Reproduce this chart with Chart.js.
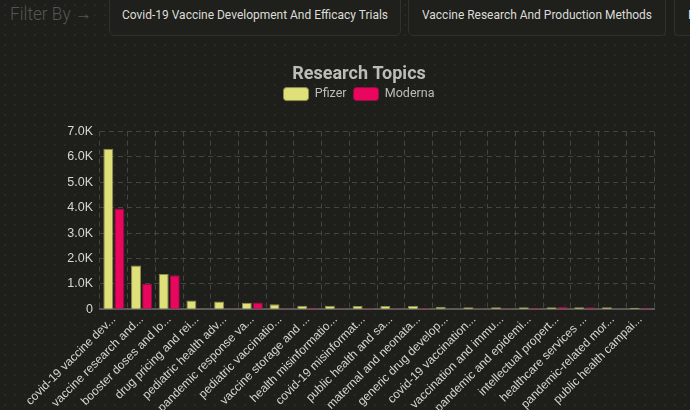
<!DOCTYPE html>
<html>
<head>
<meta charset="utf-8">
<script src="https://cdn.jsdelivr.net/npm/chart.js@4.4.1/dist/chart.umd.min.js"></script>
<style>
  html, body {
    margin: 0;
    padding: 0;
    width: 690px;
    height: 410px;
    overflow: hidden;
    background-color: #1e1e1b;
    background-image: radial-gradient(circle, rgba(255,255,255,0.05) 1px, transparent 1.2px);
    background-size: 10px 10px;
    font-family: Roboto, sans-serif;
  }
  .filter-row {
    position: absolute;
    top: 0;
    left: 0;
    height: 40px;
    width: 900px;
  }
  .fit {
    position: absolute;
    white-space: nowrap;
    line-height: 1;
    transform-origin: 0 50%;
  }
  .filter-label {
    left: 10px;
    top: 4px;
    font-weight: 300;
    font-size: 19px;
    color: #55554f;
  }
  .filter-btn {
    position: absolute;
    top: -12px;
    height: 48px;
    border: 1px solid #30302c;
    border-radius: 5px;
    background: #1f1f1c;
    box-sizing: border-box;
  }
  .filter-btn .fit {
    top: 19px;
    color: #dcdcd6;
    font-size: 13px;
  }
  #wrap {
    position: absolute;
    left: 0;
    top: 55px;
    width: 690px;
    height: 363px;
  }
</style>
</head>
<body>
<div class="filter-row">
  <div class="fit filter-label" data-w="82">Filter By &rarr;</div>
  <div class="filter-btn" style="left:109px;width:292px"><span class="fit" style="left:12px" data-w="266">Covid-19 Vaccine Development And Efficacy Trials</span></div>
  <div class="filter-btn" style="left:408px;width:258px"><span class="fit" style="left:13px" data-w="230">Vaccine Research And Production Methods</span></div>
  <div class="filter-btn" style="left:674px;width:260px"><span class="fit" style="left:13px">Emergency Use Authorization</span></div>
</div>
<div id="wrap"><canvas id="barChart"></canvas></div>
<script>
// squeeze the filter texts to the widths used on the page
var fits = document.querySelectorAll(".fit[data-w]");
for (var i = 0; i < fits.length; i++) {
  var want = parseFloat(fits[i].getAttribute("data-w"));
  var have = fits[i].getBoundingClientRect().width;
  fits[i].style.transform = "scaleX(" + (want / have) + ")";
}

// research topics (labels cut to 20 chars like on the dashboard)
var topics = [
  "covid-19 vaccine dev",
  "vaccine research and",
  "booster doses and lo",
  "drug pricing and rei",
  "pediatric health adv",
  "pandemic response va",
  "pediatric vaccinatio",
  "vaccine storage and ",
  "health misinformatio",
  "covid-19 misinformat",
  "public health and sa",
  "maternal and neonata",
  "generic drug develop",
  "covid-19 vaccination",
  "vaccination and immu",
  "pandemic and epidemi",
  "intellectual propert",
  "healthcare services ",
  "pandemic-related mor",
  "public health campai"
];

var pfizer = [6320, 1730, 1390, 350, 310, 260, 200, 145, 145, 130, 130, 130, 105, 80, 80, 80, 80, 80, 80, 60];
var moderna = [3970, 1000, 1340, 0, 40, 270, 40, 65, 40, 50, 40, 50, 0, 40, 40, 65, 105, 80, 30, 60];

var yTicks = [0, 1000, 2000, 3000, 4000, 5000, 6000, 7000];

function kFormat(v) {
  if (v === 0) return "0";
  return (v / 1000).toFixed(1) + "K";
}

// extra room between the legend and the plot
var legendGap = {
  id: 'legendGap',
  beforeInit: function (chart) {
    var fit = chart.legend.fit;
    chart.legend.fit = function () {
      fit.bind(chart.legend)();
      this.height += 21;
    };
  }
};

var ctx = document.getElementById("barChart").getContext('2d');
var myBarChart = new Chart(ctx, {
  type: 'bar',
  data: {
    labels: topics,
    datasets: [{
        label: "Pfizer",
        data: pfizer,
        backgroundColor: '#dfe07a',
        borderColor: '#8d8e4c',
        borderWidth: 1
      },
      {
        label: "Moderna",
        data: moderna,
        backgroundColor: '#e8065f',
        borderColor: '#94103f',
        borderWidth: 1
      }
    ]
  },
  plugins: [legendGap],
  options: {
    responsive: true,
    maintainAspectRatio: false,
    animation: false,
    layout: {
      padding: { left: 64, right: 36 }
    },
    plugins: {
      title: {
        display: true,
        text: "Research Topics",
        color: '#bdbdb8',
        font: { family: 'Roboto', size: 18, weight: 'bold' },
        padding: { top: 9, bottom: -5 }
      },
      legend: {
        labels: {
          color: '#bdbdb8',
          font: { family: 'Roboto', size: 12.5 },
          boxWidth: 25,
          boxHeight: 13,
          padding: 7,
          useBorderRadius: true,
          borderRadius: 3
        }
      }
    },
    scales: {
      x: {
        grid: {
          color: '#45453f',
          tickLength: 0,
          offset: true
        },
        border: { color: '#5a5a56', width: 2, dash: [5, 4] },
        ticks: {
          color: '#d6d6d2',
          font: { family: 'Liberation Sans', size: 12 },
          maxRotation: 45,
          minRotation: 45,
          autoSkip: false,
          callback: function (value) {
            return this.getLabelForValue(value) + "...";
          }
        }
      },
      y: {
        min: 0,
        max: yTicks[yTicks.length - 1],
        afterBuildTicks: function (axis) {
          axis.ticks = yTicks.map(function (v) { return { value: v }; });
        },
        afterFit: function (axis) {
          axis.width = 36;
        },
        grid: {
          color: '#45453f',
          tickLength: 0
        },
        border: { display: false, dash: [5, 4] },
        ticks: {
          color: '#d6d6d2',
          font: { family: 'Liberation Sans', size: 12.5 },
          padding: 7,
          callback: function (value) {
            return kFormat(value);
          }
        }
      }
    }
  }
});
</script>
</body>
</html>
